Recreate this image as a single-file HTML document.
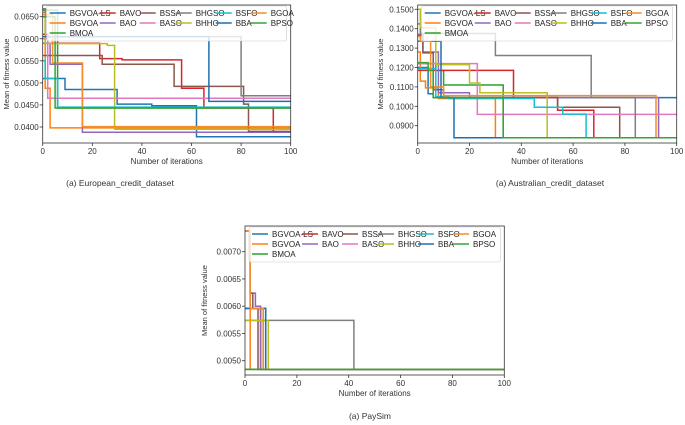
<!DOCTYPE html>
<html><head><meta charset="utf-8">
<style>
html,body{margin:0;padding:0;background:#fff;}
svg{display:block;font-family:"Liberation Sans","DejaVu Sans",sans-serif;}
</style></head>
<body>
<svg id="fig" width="685" height="425" viewBox="0 0 685 425" xmlns="http://www.w3.org/2000/svg"></svg>
<script>
// ---------- data ----------
const seriesNames = ['BGVOA-LS','BGVOA','BMOA','BAVO','BAO','BSSA','BASO','BHGSO','BHHO','BSFO','BBA','BGOA','BPSO'];
const seriesColors = ['#1f77b4','#ff7f0e','#2ca02c','#d62728','#9467bd','#8c564b','#e377c2','#7f7f7f','#bcbd22','#17becf','#1f6fb0','#f28e2b','#36a336'];
const xTicks = [0,20,40,60,80,100];

// European credit dataset: [iteration, value] step points
const eu_BGVOA_LS = [[0,0.0510],[9,0.0485],[30,0.0452],[44,0.0448],[62,0.0378],[100,0.0378]];
const eu_BGVOA = [[0,0.0660],[1,0.0488],[3,0.0398],[100,0.0398]];
const eu_BMOA = [[0,0.0665],[6,0.0443],[100,0.0443]];
const eu_BAVO = [[0,0.0610],[2,0.0590],[23,0.0555],[32,0.0552],[56,0.0488],[65,0.0443],[93,0.0388],[100,0.0388]];
const eu_BAO = [[0,0.0590],[3,0.0542],[16,0.0388],[100,0.0388]];
const eu_BSSA = [[0,0.0562],[24,0.0542],[53,0.0492],[81,0.0452],[83,0.0390],[100,0.0390]];
const eu_BASO = [[0,0.0600],[2,0.0465],[100,0.0465]];
const eu_BHGSO = [[0,0.0668],[1,0.0605],[80,0.0471],[100,0.0471]];
const eu_BHHO = [[0,0.0650],[1,0.0589],[26,0.0585],[29,0.0395],[100,0.0395]];
const eu_BSFO = [[0,0.0550],[1,0.0510],[6,0.0445],[100,0.0445]];
const eu_BBA = [[0,0.0605],[67,0.0458],[100,0.0458]];
const eu_BGOA = [[0,0.0655],[4,0.0545],[16,0.0401],[100,0.0401]];
const eu_BPSO = [[0,0.0650],[5,0.0443],[100,0.0443]];
const euSeries = [eu_BGVOA_LS,eu_BGVOA,eu_BMOA,eu_BAVO,eu_BAO,eu_BSSA,eu_BASO,eu_BHGSO,eu_BHHO,eu_BSFO,eu_BBA,eu_BGOA,eu_BPSO];
const euYTicks = [0.0400,0.0450,0.0500,0.0550,0.0600,0.0650];

// Australian credit dataset
const au_BGVOA_LS = [[0,0.1200],[4,0.1065],[6,0.1045],[100,0.1048]];
const au_BGVOA = [[0,0.1280],[1,0.1130],[3,0.1095],[8,0.1040],[30,0.0838],[100,0.0838]];
const au_BMOA = [[0,0.1220],[7,0.1185],[10,0.1110],[33,0.0838],[100,0.0838]];
const au_BAVO = [[0,0.1185],[37,0.1045],[54,0.0980],[68,0.0838],[100,0.0838]];
const au_BAO = [[0,0.1370],[2,0.1280],[8,0.1070],[20,0.1045],[93,0.0838],[100,0.0838]];
const au_BSSA = [[0,0.1365],[2,0.1275],[6,0.1085],[10,0.1045],[54,0.0995],[78,0.0838],[100,0.0838]];
const au_BASO = [[0,0.1220],[23,0.0958],[100,0.0958]];
const au_BHGSO = [[0,0.1425],[1,0.1375],[30,0.1262],[67,0.1045],[84,0.0838],[100,0.0838]];
const au_BHHO = [[0,0.1500],[1,0.1405],[7,0.1215],[20,0.1120],[24,0.1070],[50,0.0838],[100,0.0838]];
const au_BSFO = [[0,0.1195],[7,0.1050],[12,0.1040],[45,0.0995],[56,0.0960],[65,0.0838],[100,0.0838]];
const au_BBA = [[0,0.1335],[9,0.1045],[14,0.0838],[100,0.0838]];
const au_BGOA = [[0,0.1360],[1,0.1335],[5,0.1100],[10,0.1055],[92,0.0838],[100,0.0838]];
const au_BPSO = [[0,0.1225],[4,0.1185],[6,0.1045],[33,0.0838],[100,0.0838]];
const auSeries = [au_BGVOA_LS,au_BGVOA,au_BMOA,au_BAVO,au_BAO,au_BSSA,au_BASO,au_BHGSO,au_BHHO,au_BSFO,au_BBA,au_BGOA,au_BPSO];
const auYTicks = [0.0900,0.1000,0.1100,0.1200,0.1300,0.1400,0.1500];

// PaySim
const ps_BGVOA_LS = [[0,0.00596],[8,0.00484],[100,0.00484]];
const ps_BGVOA = [[0,0.00596],[2,0.00484],[100,0.00484]];
const ps_BMOA = [[0,0.00484],[100,0.00484]];
const ps_BAVO = [[0,0.00738],[2,0.00596],[6,0.00484],[100,0.00484]];
const ps_BAO = [[0,0.00738],[2,0.00624],[4,0.00600],[6,0.00484],[100,0.00484]];
const ps_BSSA = [[0,0.00738],[2,0.00624],[3,0.00596],[5,0.00484],[100,0.00484]];
const ps_BASO = [[0,0.00738],[2,0.00596],[7,0.00484],[100,0.00484]];
const ps_BHGSO = [[0,0.00574],[42,0.00484],[100,0.00484]];
const ps_BHHO = [[0,0.00574],[9,0.00484],[100,0.00484]];
const ps_BSFO = [[0,0.00596],[7,0.00484],[100,0.00484]];
const ps_BBA = [[0,0.00596],[8,0.00484],[100,0.00484]];
const ps_BGOA = [[0,0.00738],[2,0.00596],[7,0.00484],[100,0.00484]];
const ps_BPSO = [[0,0.00484],[100,0.00484]];
const psSeries = [ps_BGVOA_LS,ps_BGVOA,ps_BMOA,ps_BAVO,ps_BAO,ps_BSSA,ps_BASO,ps_BHGSO,ps_BHHO,ps_BSFO,ps_BBA,ps_BGOA,ps_BPSO];
const psYTicks = [0.0050,0.0055,0.0060,0.0065,0.0070];

// ---------- drawing ----------
const NS='http://www.w3.org/2000/svg';
const svg=document.getElementById('fig');
function mk(tag,attrs,parent){const e=document.createElementNS(NS,tag);for(const k in attrs)e.setAttribute(k,attrs[k]);(parent||svg).appendChild(e);return e;}

function chart(cfg){
  const g=mk('g',{});
  
  
  const X=v=>cfg.x0+(v-0)/100*(cfg.x1-cfg.x0);
  const Y=v=>cfg.yb-(v-cfg.vb)/(cfg.vt-cfg.vb)*(cfg.yb-cfg.yt);
  // series
  const clip='clip-'+cfg.name;
  const cp=mk('clipPath',{id:clip},g);mk('rect',{x:cfg.L,y:cfg.T,width:cfg.R-cfg.L,height:cfg.B-cfg.T},cp);
  const sg=mk('g',{'clip-path':'url(#'+clip+')'},g);
  cfg.series.forEach((pts,i)=>{
    let d='M'+X(pts[0][0]).toFixed(1)+','+Y(pts[0][1]).toFixed(1);
    for(let j=1;j<pts.length;j++){d+=' H'+X(pts[j][0]).toFixed(1)+' V'+Y(pts[j][1]).toFixed(1);}
    const p=mk('path',{d:d,fill:'none',stroke:seriesColors[i],'stroke-width':1.5},sg);
    
    
  });
  // frame
  const fr=mk('rect',{x:cfg.L,y:cfg.T,width:cfg.R-cfg.L,height:cfg.B-cfg.T,fill:'none',stroke:'#333','stroke-width':0.8},g);
  
  
  // x ticks
  xTicks.forEach(t=>{
    mk('line',{x1:X(t),x2:X(t),y1:cfg.B,y2:cfg.B+3,stroke:'#333','stroke-width':0.8},g);
    const tx=mk('text',{x:X(t),y:cfg.B+11,'font-size':8,'text-anchor':'middle',fill:'#333'},g);
    tx.textContent=t;
    
    
  });
  cfg.yTicks.forEach(t=>{
    mk('line',{x1:cfg.L-3,x2:cfg.L,y1:Y(t),y2:Y(t),stroke:'#333','stroke-width':0.8},g);
    const tx=mk('text',{x:cfg.L-4,y:Y(t)+3,'font-size':8,'text-anchor':'end',fill:'#333'},g);
    tx.textContent=t.toFixed(4);
    
    
  });
  const xt=mk('text',{x:(cfg.L+cfg.R)/2,y:cfg.B+21,'font-size':8,'text-anchor':'middle',fill:'#333'},g);
  xt.textContent='Number of iterations';
  
  
  const yt=mk('text',{x:0,y:0,'font-size':7.5,'text-anchor':'middle',fill:'#333',transform:'translate('+cfg.ytx+','+((cfg.T+cfg.B)/2)+') rotate(-90)'},g);
  yt.textContent='Mean of fitness value';
  
  
  // legend
  const lg=mk('g',{},g);
  
  
  const lx=cfg.L+4, ly=cfg.T+1;
  mk('rect',{x:lx,y:ly,width:cfg.R-cfg.L-8,height:35,rx:2,fill:'#fff','fill-opacity':0.8,stroke:'#ccc','stroke-width':0.6},lg);
  const colX=[0,50,90,126,166,201];
  const pos=[[0,0],[0,1],[0,2],[1,0],[1,1],[2,0],[2,1],[3,0],[3,1],[4,0],[4,1],[5,0],[5,1]];
  seriesNames.forEach((n,i)=>{
    const cx=lx+3+colX[pos[i][0]], cy=ly+7+pos[i][1]*10;
    const e=mk('g',{},lg);
    
    
    mk('line',{x1:cx,x2:cx+16,y1:cy,y2:cy,stroke:seriesColors[i],'stroke-width':1.5},e);
    const t=mk('text',{x:cx+20,y:cy+3,'font-size':8,fill:'#222'},e);
    t.textContent=n;
  });
  const ct=mk('text',{x:cfg.capX,y:cfg.capY,'font-size':8.5,'text-anchor':'middle',fill:'#333'},g);
  ct.textContent=cfg.caption;
  
  
}

chart({name:'european-chart',series:euSeries,yTicks:euYTicks,L:42.7,R:290.7,T:5,B:143,x0:42.7,x1:290.7,
  yb:127,yt:16.7,vb:0.0400,vt:0.0650,ytx:9,caption:'(a) European_credit_dataset',capX:120,capY:186});
chart({name:'australian-chart',series:auSeries,yTicks:auYTicks,L:417.7,R:676.7,T:5,B:143,x0:417.7,x1:676.7,
  yb:125.7,yt:9.3,vb:0.0900,vt:0.1500,ytx:383,caption:'(a) Australian_credit_dataset',capX:550,capY:186});
chart({name:'paysim-chart',series:psSeries,yTicks:psYTicks,L:245,R:504.3,T:226,B:375,x0:245,x1:504.3,
  yb:360.7,yt:251.7,vb:0.0050,vt:0.0070,ytx:207,caption:'(a) PaySim',capX:370,capY:419});
</script>
</body></html>
